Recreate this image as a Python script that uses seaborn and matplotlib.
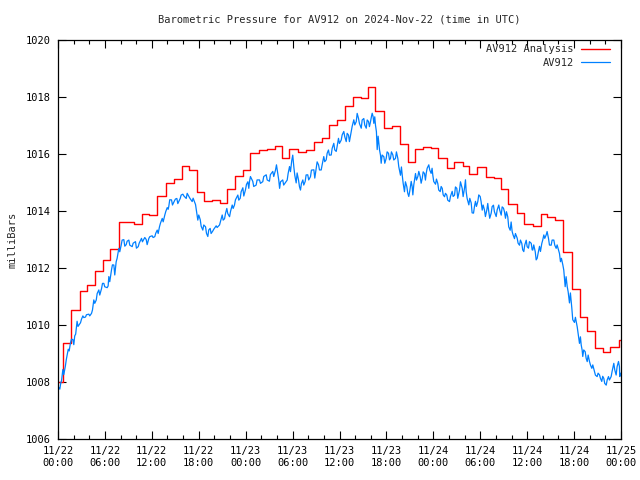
import numpy as np
import pandas as pd
import seaborn as sns
import matplotlib
matplotlib.use("Agg")
import matplotlib.pyplot as plt

# hours since 2024-11-22 00:00 UTC
analysis_hours = [0.0, 0.6, 1.66, 2.8, 3.74, 4.7, 5.7, 6.7, 7.77, 9.7, 10.7, 11.7,
                  12.7, 13.8, 14.8, 15.8, 16.8, 17.8, 18.7, 19.7, 20.7, 21.6, 22.6,
                  23.6, 24.6, 25.7, 26.7, 27.7, 28.7, 29.6, 30.7, 31.7, 32.7, 33.7,
                  34.7, 35.7, 36.7, 37.7, 38.7, 39.7, 40.6, 41.7, 42.7, 43.7, 44.7,
                  45.65, 46.7, 47.7, 48.64, 49.7, 50.64, 51.75, 52.6, 53.6, 54.7,
                  55.75, 56.7, 57.6, 58.65, 59.6, 60.7, 61.8, 62.6, 63.5, 64.6,
                  65.7, 66.7, 67.6, 68.7, 69.7, 70.6, 71.7, 72.0]
analysis_mb = [1008.0, 1009.37, 1010.53, 1011.19, 1011.40, 1011.89, 1012.28, 1012.67,
               1013.60, 1013.53, 1013.91, 1013.86, 1014.53, 1014.97, 1015.11, 1015.58,
               1015.44, 1014.66, 1014.34, 1014.37, 1014.28, 1014.76, 1015.23, 1015.43,
               1016.02, 1016.14, 1016.18, 1016.27, 1015.86, 1016.18, 1016.07, 1016.14,
               1016.41, 1016.55, 1017.00, 1017.19, 1017.67, 1017.99, 1017.95, 1018.34,
               1017.51, 1016.90, 1016.97, 1016.35, 1015.71, 1016.16, 1016.23, 1016.20,
               1015.85, 1015.50, 1015.71, 1015.58, 1015.30, 1015.53, 1015.18, 1015.15,
               1014.76, 1014.25, 1013.92, 1013.54, 1013.47, 1013.89, 1013.78, 1013.67,
               1012.55, 1011.26, 1010.28, 1009.78, 1009.19, 1009.05, 1009.23, 1009.47,
               1009.47]

station_hours = [0.17, 0.4, 0.68, 1.0, 1.37, 1.66, 1.96, 2.2, 2.5, 2.94, 3.24, 3.58,
                 4.0, 4.35, 4.64, 4.95, 5.28, 5.63, 5.92, 6.35, 6.56, 6.9, 7.2, 7.5,
                 7.84, 8.14, 8.48, 8.78, 9.12, 9.55, 9.97, 10.32, 10.74, 11.04, 11.34,
                 11.68, 12.1, 12.44, 12.75, 13.04, 13.39, 13.72, 14.03, 14.23, 14.58,
                 14.96, 15.26, 15.69, 16.03, 16.46, 16.8, 17.22, 17.65, 17.94, 18.25,
                 18.58, 18.93, 19.22, 19.52, 19.86, 20.29, 20.72, 21.06, 21.36, 21.65,
                 22.0, 22.34, 22.63, 23.06, 23.36, 23.7, 24.04, 24.34, 24.55, 24.97,
                 25.4, 25.83, 26.25, 26.69, 27.1, 27.53, 27.88, 28.17, 28.4, 28.8,
                 29.37, 29.67, 29.96, 30.22, 30.52, 30.82, 31.07, 31.37, 31.67, 32.0,
                 32.35, 32.78, 33.08, 33.38, 33.72, 34.05, 34.36, 34.65, 35.0, 35.33,
                 35.64, 35.93, 36.28, 36.61, 36.92, 37.21, 37.56, 37.89, 38.2, 38.49,
                 38.84, 39.17, 39.48, 39.77, 40.03, 40.24, 40.45, 40.66, 40.88, 41.18,
                 41.39, 41.73, 42.03, 42.33, 42.58, 42.88, 43.22, 43.52, 43.86, 44.08,
                 44.37, 44.67, 44.92, 45.23, 45.44, 45.78, 46.08, 46.38, 46.64, 46.93,
                 47.15, 47.48, 47.78, 47.99, 48.34, 48.63, 48.94, 49.2, 49.49, 49.78,
                 50.13, 50.47, 50.77, 51.06, 51.41, 51.75, 52.05, 52.26, 52.6, 52.9,
                 53.2, 53.45, 53.75, 54.05, 54.31, 54.6, 54.9, 55.15, 55.46, 55.75,
                 56.1, 56.43, 56.74, 57.03, 57.29, 57.58, 57.89, 58.14, 58.44, 58.78,
                 59.08, 59.37, 59.63, 59.94, 60.23, 60.58, 60.78, 61.09, 61.34, 61.64,
                 61.93, 62.19, 62.49, 62.79, 63.13, 63.47, 63.77, 64.07, 64.32, 64.62,
                 64.92, 65.18, 65.47, 65.77, 66.11, 66.46, 66.75, 66.97, 67.17, 67.48,
                 67.74, 68.03, 68.33, 68.67, 69.01, 69.31, 69.6, 69.86, 70.17, 70.46,
                 70.8, 71.14, 71.44, 71.74, 71.9]
# middle of the trace at each reading
station_mb = [1007.78, 1008.0, 1008.35, 1008.67, 1009.12, 1009.44, 1009.40, 1009.65,
              1010.04, 1010.14, 1010.29, 1010.32, 1010.35, 1010.47, 1010.82, 1010.99,
              1011.14, 1011.37, 1011.40, 1011.34, 1011.61, 1012.02, 1011.93, 1012.28,
              1012.63, 1012.89, 1012.88, 1012.88, 1012.89, 1012.81, 1012.81, 1012.81,
              1012.98, 1013.04, 1012.91, 1013.07, 1013.10, 1013.16, 1013.27, 1013.51,
              1013.68, 1013.92, 1014.09, 1014.28, 1014.30,
              1014.39, 1014.35, 1014.50, 1014.56, 1014.53, 1014.48, 1014.39, 1014.11,
              1013.77, 1013.58, 1013.42, 1013.33, 1013.22, 1013.30, 1013.33, 1013.45,
              1013.57, 1013.77, 1013.82, 1014.00, 1013.89, 1014.15, 1014.30, 1014.47,
              1014.56, 1014.67, 1014.84, 1014.91, 1015.12, 1014.95, 1015.00, 1015.03,
              1015.12, 1015.18, 1015.16, 1015.30, 1015.53, 1015.20, 1014.91, 1015.00,
              1015.20, 1015.47, 1015.87, 1015.40, 1015.16, 1014.97, 1014.85, 1015.00,
              1015.15, 1015.18, 1015.32, 1015.30, 1015.61, 1015.53, 1015.53, 1015.82,
              1015.91, 1016.05, 1016.08, 1016.26, 1016.18, 1016.46, 1016.58, 1016.70,
              1016.58, 1016.55, 1016.88, 1017.11, 1017.28, 1017.16, 1017.05, 1017.13,
              1017.05, 1017.05, 1017.23, 1017.37, 1017.19, 1016.90, 1016.39, 1016.05,
              1015.82, 1015.79, 1015.96, 1015.91, 1015.96, 1015.88, 1015.96, 1015.70,
              1015.40, 1015.12, 1014.85, 1014.74, 1014.60, 1014.95, 1014.74, 1015.20,
              1015.30, 1015.09, 1015.26, 1015.20, 1015.41, 1015.53, 1015.41, 1015.15,
              1015.03, 1014.85, 1014.77, 1014.68, 1014.56, 1014.47, 1014.42, 1014.60,
              1014.70, 1014.62, 1014.88, 1014.65, 1014.95, 1014.56, 1014.33, 1014.11,
              1014.04, 1014.25, 1014.45, 1014.42, 1014.12, 1013.92, 1014.15, 1013.86,
              1014.04, 1014.09, 1013.92, 1014.12, 1014.00, 1014.04, 1013.86, 1013.62,
              1013.47, 1013.22, 1013.12, 1012.96, 1012.89, 1012.75, 1012.69, 1012.86,
              1012.81, 1012.75, 1012.72, 1012.43, 1012.43, 1012.67, 1012.92, 1013.10,
              1013.22, 1012.92, 1012.89, 1012.89, 1012.75, 1012.57, 1012.28, 1012.02,
              1011.52, 1011.26, 1010.95, 1010.39, 1010.18, 1009.82, 1009.47, 1009.21,
              1009.01, 1008.95, 1008.83, 1008.66, 1008.54, 1008.30, 1008.25, 1008.19,
              1008.11, 1008.04, 1007.98, 1008.13, 1008.28, 1008.54, 1008.39, 1008.63,
              1008.25]
# vertical extent of the jittery trace at each reading (mb)
station_spread = [0.06, 0.12, 0.18, 0.23, 0.06, 0.12, 0.18, 0.06, 0.18, 0.12, 0.06, 0.08,
                  0.06, 0.12, 0.12, 0.23, 0.18, 0.18, 0.12, 0.06, 0.18, 0.18, 0.35, 0.12,
                  0.12, 0.18, 0.23, 0.12, 0.18, 0.12, 0.23, 0.12, 0.12, 0.06, 0.18,
                  0.06, 0.06, 0.12, 0.12, 0.12, 0.12, 0.12, 0.06, 0.23, 0.18,
                  0.06, 0.18, 0.12, 0.06, 0.18, 0.06, 0.12, 0.23, 0.18, 0.23,
                  0.18, 0.23, 0.23, 0.18, 0.06, 0.06, 0.12, 0.18, 0.18, 0.18,
                  0.18, 0.12, 0.18, 0.18, 0.23, 0.29, 0.18, 0.23, 0.18, 0.18,
                  0.18, 0.12, 0.18, 0.18, 0.23, 0.18, 0.18, 0.23, 0.23, 0.18,
                  0.23, 0.18, 0.18, 0.29, 0.35, 0.23, 0.23, 0.18, 0.23, 0.18,
                  0.23, 0.29, 0.23, 0.18, 0.18, 0.18, 0.23, 0.18, 0.23, 0.23,
                  0.18, 0.18, 0.18, 0.18, 0.29, 0.23, 0.18, 0.18, 0.29, 0.18,
                  0.29, 0.23, 0.29, 0.18, 0.18, 0.12, 0.23, 0.23, 0.47, 0.18,
                  0.29, 0.23, 0.23, 0.23, 0.23, 0.18, 0.23, 0.29, 0.29, 0.29,
                  0.35, 0.23, 0.18, 0.18, 0.35, 0.23, 0.18, 0.23, 0.23, 0.23,
                  0.18, 0.18, 0.18, 0.23, 0.18, 0.23, 0.18, 0.23, 0.12, 0.18,
                  0.18, 0.18, 0.29, 0.35, 0.29, 0.29, 0.29, 0.23, 0.23, 0.35,
                  0.23, 0.18, 0.23, 0.18, 0.18, 0.23, 0.23, 0.23, 0.23, 0.23,
                  0.23, 0.18, 0.29, 0.12, 0.23, 0.35, 0.29, 0.12, 0.18, 0.18,
                  0.18, 0.23, 0.23, 0.23, 0.23, 0.23, 0.18, 0.29, 0.18, 0.18,
                  0.12, 0.12, 0.12, 0.23, 0.18, 0.18, 0.12, 0.12, 0.12, 0.18,
                  0.35, 0.18, 0.35, 0.41, 0.18, 0.23, 0.23, 0.18, 0.23, 0.23,
                  0.23, 0.12, 0.12, 0.12, 0.12, 0.12, 0.18, 0.18, 0.18, 0.12,
                  0.18, 0.23, 0.29, 0.18, 0.12]

tick_labels = ["11/22\n00:00", "11/22\n06:00", "11/22\n12:00", "11/22\n18:00",
               "11/23\n00:00", "11/23\n06:00", "11/23\n12:00", "11/23\n18:00",
               "11/24\n00:00", "11/24\n06:00", "11/24\n12:00", "11/24\n18:00",
               "11/25\n00:00"]

# the station trace goes through the top and the bottom of each reading's extent
hrs = np.asarray(station_hours)
mid = np.asarray(station_mb)
half = np.asarray(station_spread) / 2
sign = np.where(np.arange(len(hrs)) % 2 == 0, 1.0, -1.0)
station = pd.DataFrame({
    "hour": np.column_stack([hrs - 0.06, hrs + 0.06]).ravel(),
    "mb": np.column_stack([mid + sign * half, mid - sign * half]).ravel(),
})

sns.set_style("ticks")
plt.rcParams["font.family"] = ["DejaVu Sans Mono"]

fig = plt.figure(figsize=(6.4, 4.8), dpi=100)
ax = fig.add_axes([58 / 640, 1 - 439 / 480, (621 - 58) / 640, (439 - 40) / 480])

sns.lineplot(x=analysis_hours, y=analysis_mb, ax=ax, color="#ff0000", lw=1.0,
             drawstyle="steps-post", label="AV912 Analysis")
sns.lineplot(data=station, x="hour", y="mb", ax=ax, color="#0080ff", lw=0.9,
             sort=False, label="AV912")

ax.set_xlim(0, 72)
ax.set_ylim(1006, 1020)
ax.set_xticks(np.arange(0, 73, 6))
ax.set_xticklabels(tick_labels)
ax.set_xticks(np.arange(0, 73, 2), minor=True)
ax.set_yticks(np.arange(1006, 1021, 2))
ax.tick_params(axis="both", which="both", direction="in", top=True, right=True,
               labelsize=7.5, colors="black", pad=5)
ax.tick_params(axis="both", which="major", length=6, width=0.8)
ax.tick_params(axis="x", which="minor", length=3, width=0.8)
for s in ax.spines.values():
    s.set_visible(True)
    s.set_color("black")
    s.set_linewidth(0.9)

ax.set_ylabel("milliBars", fontsize=7.5, labelpad=6)
ax.set_xlabel("")
fig.text(0.53, 1 - 20 / 480, "Barometric Pressure for AV912 on 2024-Nov-22 (time in UTC)",
         ha="center", va="center", fontsize=7.5)

leg = ax.legend(loc="upper right", bbox_to_anchor=(1 - 7 / 563, 1.0), frameon=False,
                markerfirst=False, fontsize=7.5, handlelength=2.8, handletextpad=0.65,
                borderaxespad=0.0, borderpad=0.4, labelspacing=0.35)

fig.savefig("out.png", dpi=100)
